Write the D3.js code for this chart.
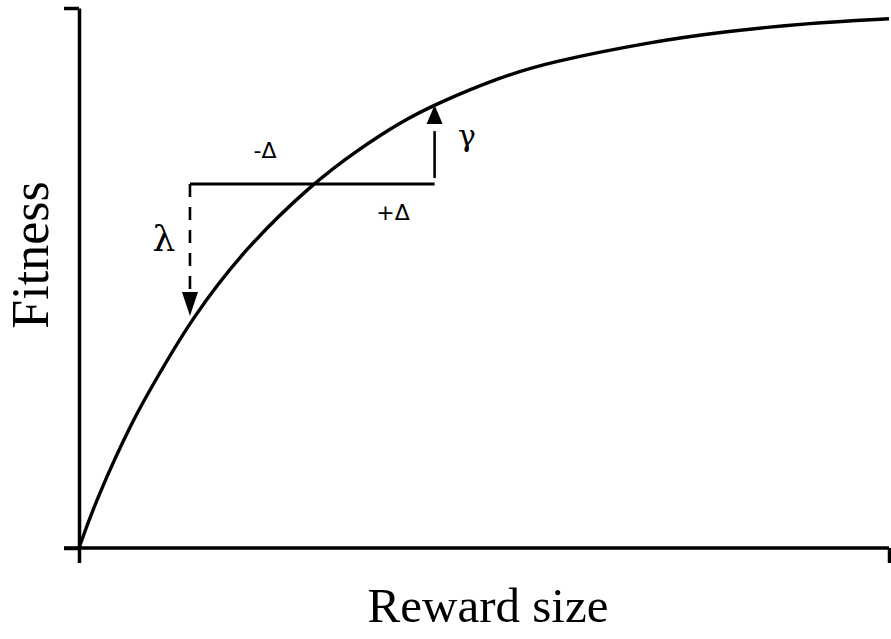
<!DOCTYPE html>
<html>
<head>
<meta charset="utf-8">
<script src="https://cdn.jsdelivr.net/npm/d3@7"></script>
<style>
  html, body { margin: 0; padding: 0; background: #fff; }
  svg { display: block; }
</style>
</head>
<body>
<div id="chart"></div>
<script>
// ---- data ----
const rewardSize = [0, 2.1, 6.8, 9.9, 13.8, 20.3, 28.9, 34.4, 39.7, 44.3, 52.0, 58.2, 70.5, 79.5, 89.9, 100];
const fitness    = [0, 8.9, 24.3, 32.2, 42.2, 55.2, 67.6, 73.7, 78.9, 82.4, 87.2, 90.0, 93.7, 95.6, 97.2, 98.0];
const xTicks = [0, 100];
const yTicks = [0, 100];
const xLabel = "Reward size";
const yLabel = "Fitness";
// annotation values
const lowReward = 13.7, highReward = 43.9;
const midFitness = 67.4, lowFitness = 42.4, highFitness = 82.2;
const labels = { minus: "-Δ", plus: "+Δ", lambda: "λ", gamma: "γ" };

const W = 891, H = 639;
const svg = d3.select("#chart").append("svg").attr("width", W).attr("height", H);

const x = d3.scaleLinear().domain([0, 100]).range([79, 889]);
const y = d3.scaleLinear().domain([0, 100]).range([548, 8]);

// axes
const xAxis = d3.axisBottom(x).tickValues(xTicks).tickSize(15).tickSizeOuter(0).tickFormat("");
const yAxis = d3.axisLeft(y).tickValues(yTicks).tickSize(15).tickSizeOuter(0).tickFormat("");
const gx = svg.append("g").attr("transform", `translate(0,${y(0)})`).call(xAxis);
const gy = svg.append("g").attr("transform", `translate(${x(0)},0)`).call(yAxis);
[gx, gy].forEach(g => {
  g.selectAll("path,line").attr("stroke", "#000").attr("stroke-width", 3.5);
});
gx.select(".domain").attr("d", `M${x(0) - 15},0H${x(100)}`);

// curve
const pts = rewardSize.map((r, i) => [r, fitness[i]]);
const line = d3.line().x(d => x(d[0])).y(d => y(d[1])).curve(d3.curveBasis);
svg.append("path").datum(pts).attr("d", line)
  .attr("fill", "none").attr("stroke", "#000").attr("stroke-width", 3.4);

// horizontal segment
svg.append("line")
  .attr("x1", x(lowReward)).attr("x2", x(highReward))
  .attr("y1", y(midFitness)).attr("y2", y(midFitness))
  .attr("stroke", "#000").attr("stroke-width", 3);

// dashed down arrow (lambda)
const lx = x(lowReward), ltip = y(lowFitness) - 3;
svg.append("line")
  .attr("x1", lx).attr("x2", lx)
  .attr("y1", y(midFitness)).attr("y2", ltip - 22)
  .attr("stroke", "#000").attr("stroke-width", 2.6)
  .attr("stroke-dasharray", "13,10");
svg.append("path")
  .attr("d", `M${lx - 8},${ltip - 24}L${lx + 8},${ltip - 24}L${lx},${ltip}Z`)
  .attr("fill", "#000");

// solid up arrow (gamma)
const gxp = x(highReward), gtip = y(highFitness) + 1;
svg.append("line")
  .attr("x1", gxp).attr("x2", gxp)
  .attr("y1", y(midFitness) - 6).attr("y2", gtip + 26)
  .attr("stroke", "#000").attr("stroke-width", 2.6);
svg.append("path")
  .attr("d", `M${gxp - 8},${gtip + 19}L${gxp + 8},${gtip + 19}L${gxp},${gtip}Z`)
  .attr("fill", "#000");

// annotation labels
const sans = "'DejaVu Sans', sans-serif";
svg.append("text").attr("x", 265).attr("y", 158).attr("text-anchor", "middle")
  .attr("font-family", sans).attr("font-size", 22).text(labels.minus);
svg.append("text").attr("x", 393).attr("y", 220).attr("text-anchor", "middle")
  .attr("font-family", sans).attr("font-size", 22).text(labels.plus);
svg.append("text").attr("x", 164).attr("y", 251).attr("text-anchor", "middle")
  .attr("font-family", "'DejaVu Serif', serif").attr("font-size", 36).text(labels.lambda);
svg.append("text").attr("x", 467).attr("y", 146).attr("text-anchor", "middle")
  .attr("font-family", "'DejaVu Serif', serif").attr("font-size", 30).text(labels.gamma);

// axis titles
const serif = "'Liberation Serif', 'Times New Roman', serif";
svg.append("text").attr("x", 488).attr("y", 622).attr("text-anchor", "middle")
  .attr("font-family", serif).attr("font-size", 49).text(xLabel);
svg.append("text").attr("transform", "translate(48,255) rotate(-90)")
  .attr("text-anchor", "middle")
  .attr("font-family", serif).attr("font-size", 52).text(yLabel);
</script>
</body>
</html>
